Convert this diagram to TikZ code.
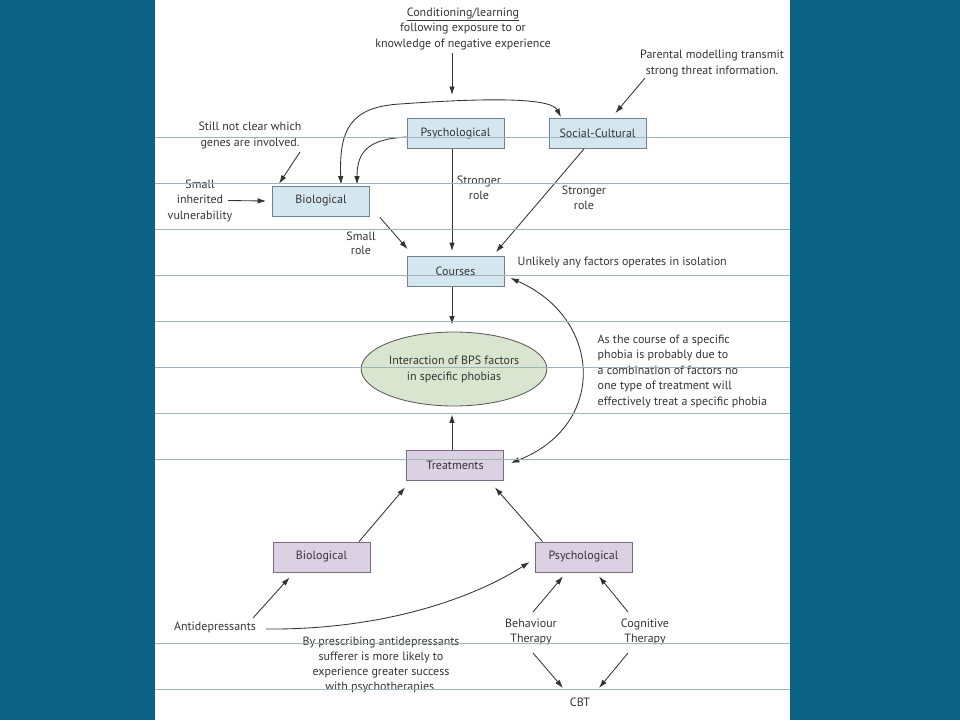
\documentclass[tikz,border=0pt]{standalone}
\usepackage{fontspec}
\setmainfont{PT Sans}
\usetikzlibrary{arrows.meta,shapes.geometric}
\definecolor{bgteal}{HTML}{0A6181}
\definecolor{boxblue}{HTML}{D4E6EF}
\definecolor{boxblueline}{HTML}{72828C}
\definecolor{boxpurple}{HTML}{DCD0E3}
\definecolor{boxpurpleline}{HTML}{7A6A82}
\definecolor{ellfill}{HTML}{DAE5CF}
\definecolor{ellline}{HTML}{555555}
\definecolor{txtc}{HTML}{353535}
\definecolor{arrc}{HTML}{333333}
\definecolor{gridc}{HTML}{9DB5BD}
\tikzset{
  lbl/.style={text=txtc, align=center, inner sep=0.5pt, font=\fontsize{12}{15.5}\selectfont},
  boxlbl/.style={text=txtc, font=\fontsize{12}{13}\selectfont, minimum width=97pt, minimum height=30pt, inner sep=0pt, line width=0.8pt},
  bluebox/.style={boxlbl, draw=boxblueline, fill=boxblue},
  purplebox/.style={boxlbl, draw=boxpurpleline, fill=boxpurple},
  arr/.style={draw=arrc, line width=0.85pt, -{Latex[length=8.5pt,width=5.5pt]}},
  arrtwo/.style={draw=arrc, line width=0.85pt, {Latex[length=8.5pt,width=5.5pt]}-{Latex[length=8.5pt,width=5.5pt]}},
  gridln/.style={draw=gridc, line width=0.7pt}
}
\begin{document}
\begin{tikzpicture}[x=1pt,y=-1pt]
\fill[bgteal] (0,0) rectangle (960,720);
\fill[white] (155,0) rectangle (790,720);
\useasboundingbox (0,0) rectangle (960,720);

% boxes
\node[bluebox] (psy1) at (455.5,133.5) {Psychological};
\node[bluebox] (soc) at (597.5,133.5) {Social-Cultural};
\node[bluebox] (bio1) at (321,201) {Biological};
\node[bluebox] (courses) at (455.5,271.5) {Courses};
\node[ellipse, draw=ellline, fill=ellfill, line width=0.8pt, minimum width=184pt, minimum height=74pt, inner sep=0pt, lbl, font=\fontsize{12}{16}\selectfont] (ell) at (454,369) {Interaction of BPS factors\\in specific phobias};
\node[purplebox] (treat) at (455,465) {Treatments};
\node[purplebox] (bio2) at (321.5,557) {Biological};
\node[purplebox] (psy2) at (583.5,557) {Psychological};

% text labels
\node[lbl] (cond) at (463,28.5) {\underline{Conditioning/learning}\\following exposure to or\\knowledge of negative experience};
\node[lbl, font=\fontsize{12}{16.5}\selectfont] (parent) at (712,63.5) {Parental modelling transmit\\strong threat information.};
\node[lbl, font=\fontsize{12}{16}\selectfont] (still) at (250,135) {Still not clear which\\genes are involved.};
\node[lbl] (smallinh) at (200,200.5) {Small\\inherited\\vulnerability};
\node[lbl, font=\fontsize{12}{15}\selectfont] (str1) at (479,187.5) {Stronger\\role};
\node[lbl, font=\fontsize{12}{15.5}\selectfont] (str2) at (584,198) {Stronger\\role};
\node[lbl, font=\fontsize{12}{14}\selectfont] (smallrole) at (361,243) {Small\\role};
\node[lbl, anchor=west] (unlikely) at (517,262) {Unlikely any factors operates in isolation};
\node[lbl, anchor=west, align=left] (ascourse) at (597,371) {As the course of a specific\\phobia is probably due to\\a combination of factors no\\one type of treatment will\\effectively treat a specific phobia};
\node[lbl] (antidep) at (215,627) {Antidepressants};
\node[lbl, font=\fontsize{12}{14.8}\selectfont] (byp) at (381,665) {By prescribing antidepressants\\sufferer is more likely to\\experience greater success\\with psychotherapies.};
\node[lbl, font=\fontsize{12}{15}\selectfont] (behav) at (531,631.5) {Behaviour\\Therapy};
\node[lbl, font=\fontsize{12}{15}\selectfont] (cogn) at (645,631.5) {Cognitive\\Therapy};
\node[lbl] (cbt) at (580,702) {CBT};

% free-end coordinates
\coordinate (condtip) at (452,95);
\coordinate (toparc) at (400,104);

% connectors, top part
\draw[arr] ([yshift=-24pt]condtip |- cond.center) -- (condtip);
\draw[arrtwo] ([xshift=20pt,yshift=1pt]bio1.north) .. controls (339,130) and (350,107) .. (toparc)
   .. controls (470,99) and (550,96) .. ([xshift=-36.5pt,yshift=1pt]soc.north);
\draw[arr] ([yshift=-3.5pt]psy1.west) .. controls (370,139) and (357,150) .. ([xshift=36pt,yshift=1pt]bio1.north);
\draw[arr] ([xshift=-67pt,yshift=-14.5pt]parent.center) -- ([xshift=-31pt,yshift=5pt]soc.north east);
\draw[arr] ([xshift=50pt,yshift=-17pt]still.center) -- ([xshift=7pt,yshift=2pt]bio1.north west);
\draw[arr] ([xshift=28pt]smallinh.center) -- ([xshift=-6pt]bio1.west);
\draw[arr] ([xshift=-3.5pt]psy1.south) -- ([xshift=-3.5pt,yshift=5pt]courses.north);
\draw[arr] ([xshift=-13.5pt]soc.south) -- ([xshift=40.5pt,yshift=4pt]courses.north);
\draw[arr] ([xshift=10pt,yshift=-1pt]bio1.south east) -- ([xshift=1pt,yshift=7pt]courses.north west);
\draw[arr] ([xshift=-3.5pt]courses.south) -- ([xshift=-2pt,yshift=7pt]ell.north);
\draw[arr] ([xshift=-3pt]treat.north) -- ([xshift=-2pt,yshift=-8pt]ell.south);
\draw[arrtwo] ([xshift=6pt,yshift=-6.5pt]courses.east) .. controls (602,318) and (608,425) .. ([xshift=7pt,yshift=2pt]treat.east);

% connectors, bottom part
\draw[arr] ([xshift=37.5pt]bio2.north) -- ([xshift=-1pt,yshift=-7pt]treat.south west);
\draw[arr] ([xshift=8pt]psy2.north west) -- ([xshift=-9pt,yshift=-7pt]treat.south east);
\draw[arr] ([xshift=38pt,yshift=9pt]antidep.center) -- ([xshift=17pt,yshift=-5pt]bio2.south west);
\draw[arr] ([xshift=51pt,yshift=-2pt]antidep.center) .. controls (380,630) and (470,600) .. ([xshift=-5pt,yshift=-5pt]psy2.west);
\draw[arr] ([xshift=2pt,yshift=19.5pt]behav.center) -- ([xshift=-20.5pt,yshift=-4pt]psy2.south);
\draw[arr] ([xshift=-17pt,yshift=19.5pt]cogn.center) -- ([xshift=15.5pt,yshift=-4pt]psy2.south);
\draw[arr] ([xshift=2pt,yshift=-21.5pt]behav.center) -- ([xshift=-17pt,yshift=14pt]cbt.center);
\draw[arr] ([xshift=-17pt,yshift=-21.5pt]cogn.center) -- ([xshift=19pt,yshift=14pt]cbt.center);

% slide ruling lines drawn over the diagram
\foreach \yy in {137,183,229,275,321,367,413,459,643,689}
  \draw[gridln] (155,\yy) -- (790,\yy);
\end{tikzpicture}
\end{document}
